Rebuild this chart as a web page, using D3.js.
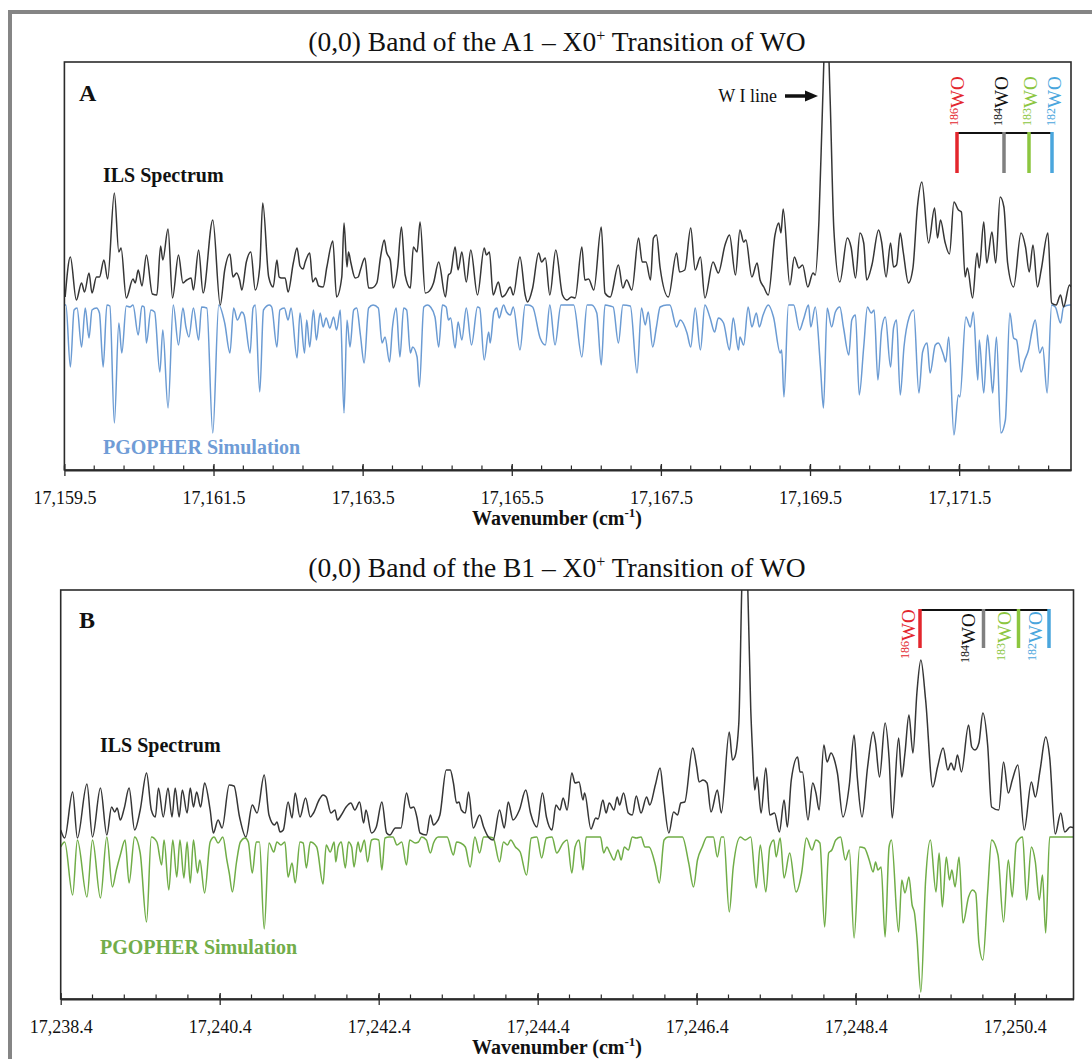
<!DOCTYPE html>
<html>
<head>
<meta charset="utf-8">
<script src="https://cdn.jsdelivr.net/npm/d3@7"></script>
<style>
  body { margin: 0; background: #fff; }
  svg text { font-family: "Liberation Serif", "Times New Roman", serif; }
</style>
</head>
<body>
<svg id="fig" width="1092" height="1059"></svg>
<script>
// ---------- data: wavenumber (cm-1), intensity (arb. units) ----------
// ILS spectrum, A1 - X0+ band: [wavenumber, intensity]
const ilsA = [[17159.51,173],[17159.58,213],[17159.66,170],[17159.73,187],[17159.77,178],[17159.83,197],[17159.87,177],[17159.93,193],[17159.97,193],[17160.03,210],[17160.08,191],[17160.17,277],[17160.23,218],[17160.26,222],[17160.33,172],[17160.42,191],[17160.45,187],[17160.49,200],[17160.54,184],[17160.60,215],[17160.68,176],[17160.74,175],[17160.79,224],[17160.82,210],[17160.89,241],[17160.95,172],[17161.03,215],[17161.09,187],[17161.14,190],[17161.20,192],[17161.23,180],[17161.30,220],[17161.36,177],[17161.49,250],[17161.59,165],[17161.65,200],[17161.72,216],[17161.76,193],[17161.81,197],[17161.85,190],[17161.88,180],[17161.94,208],[17162.00,218],[17162.06,180],[17162.12,203],[17162.16,267],[17162.24,193],[17162.30,183],[17162.35,210],[17162.38,193],[17162.41,192],[17162.46,192],[17162.50,178],[17162.57,207],[17162.62,222],[17162.66,204],[17162.70,201],[17162.73,208],[17162.79,217],[17162.83,188],[17162.87,192],[17162.91,184],[17162.97,183],[17163.02,203],[17163.10,229],[17163.15,173],[17163.22,193],[17163.25,247],[17163.29,203],[17163.31,218],[17163.34,208],[17163.40,192],[17163.44,193],[17163.47,200],[17163.53,212],[17163.58,182],[17163.62,182],[17163.69,187],[17163.74,213],[17163.79,230],[17163.82,218],[17163.87,210],[17163.91,182],[17163.97,203],[17164.02,243],[17164.07,195],[17164.14,182],[17164.18,223],[17164.23,218],[17164.27,248],[17164.34,177],[17164.38,178],[17164.45,187],[17164.52,208],[17164.61,173],[17164.65,195],[17164.68,197],[17164.74,223],[17164.78,200],[17164.83,218],[17164.89,188],[17164.95,220],[17165.04,175],[17165.13,222],[17165.16,215],[17165.20,218],[17165.25,175],[17165.32,188],[17165.37,173],[17165.41,175],[17165.48,183],[17165.52,175],[17165.61,213],[17165.68,175],[17165.71,168],[17165.78,182],[17165.86,217],[17165.90,208],[17165.95,212],[17166.01,175],[17166.09,220],[17166.18,175],[17166.24,170],[17166.30,173],[17166.35,172],[17166.44,223],[17166.48,190],[17166.53,191],[17166.60,180],[17166.70,243],[17166.75,177],[17166.82,173],[17166.93,205],[17166.99,182],[17167.04,190],[17167.11,180],[17167.20,232],[17167.25,208],[17167.30,208],[17167.36,190],[17167.40,232],[17167.44,235],[17167.49,202],[17167.60,173],[17167.71,217],[17167.75,198],[17167.82,200],[17167.90,242],[17167.96,200],[17168.03,213],[17168.09,172],[17168.20,208],[17168.27,197],[17168.36,225],[17168.42,235],[17168.50,195],[17168.56,240],[17168.61,228],[17168.64,230],[17168.72,193],[17168.79,207],[17168.83,190],[17168.88,183],[17168.94,175],[17169.03,235],[17169.08,247],[17169.11,237],[17169.14,261],[17169.23,185],[17169.29,213],[17169.35,202],[17169.40,205],[17169.47,183],[17169.54,197],[17169.57,195],[17169.62,250],[17169.67,370],[17169.72,470],[17169.77,370],[17169.82,240],[17169.90,188],[17170.00,232],[17170.05,223],[17170.11,192],[17170.17,237],[17170.22,227],[17170.26,190],[17170.33,205],[17170.42,240],[17170.46,228],[17170.52,193],[17170.58,227],[17170.62,203],[17170.66,205],[17170.71,237],[17170.75,218],[17170.82,187],[17170.88,202],[17170.94,263],[17171.00,288],[17171.09,227],[17171.17,262],[17171.21,232],[17171.25,250],[17171.31,228],[17171.37,216],[17171.43,268],[17171.49,260],[17171.53,258],[17171.58,193],[17171.61,202],[17171.68,172],[17171.74,217],[17171.77,202],[17171.83,248],[17171.87,207],[17171.94,238],[17171.99,207],[17172.05,273],[17172.10,263],[17172.15,207],[17172.23,183],[17172.33,237],[17172.39,223],[17172.44,198],[17172.49,225],[17172.55,183],[17172.60,200],[17172.69,237],[17172.74,167],[17172.80,165],[17172.86,175],[17172.90,163],[17172.98,185],[17173.00,183]];

// PGOPHER simulation, A1 - X0+ band: [wavenumber, simulated intensity]
const simA = [[17159.50,0],[17159.52,0],[17159.58,62],[17159.63,5],[17159.67,3],[17159.73,42],[17159.78,3],[17159.83,33],[17159.87,5],[17159.93,3],[17159.97,8],[17160.02,62],[17160.07,0],[17160.11,1],[17160.17,118],[17160.23,18],[17160.27,48],[17160.33,1],[17160.38,2],[17160.42,0],[17160.49,30],[17160.54,1],[17160.57,2],[17160.60,38],[17160.66,5],[17160.71,7],[17160.78,67],[17160.82,25],[17160.89,103],[17160.96,0],[17161.03,40],[17161.09,3],[17161.13,22],[17161.17,32],[17161.23,3],[17161.30,35],[17161.34,2],[17161.41,3],[17161.49,128],[17161.57,0],[17161.65,18],[17161.72,48],[17161.77,3],[17161.82,15],[17161.88,7],[17161.91,10],[17161.99,48],[17162.03,3],[17162.06,0],[17162.12,87],[17162.17,5],[17162.25,0],[17162.28,2],[17162.35,42],[17162.39,5],[17162.45,3],[17162.50,15],[17162.54,3],[17162.62,53],[17162.66,8],[17162.72,48],[17162.75,15],[17162.79,42],[17162.84,5],[17162.88,35],[17162.93,8],[17162.97,22],[17163.01,13],[17163.06,23],[17163.11,12],[17163.15,25],[17163.20,5],[17163.25,108],[17163.29,15],[17163.33,42],[17163.38,5],[17163.42,3],[17163.47,30],[17163.52,58],[17163.58,3],[17163.64,0],[17163.71,3],[17163.76,38],[17163.80,32],[17163.86,57],[17163.90,22],[17163.95,3],[17164.00,52],[17164.05,3],[17164.09,5],[17164.14,48],[17164.17,42],[17164.23,52],[17164.26,82],[17164.32,2],[17164.37,0],[17164.41,2],[17164.47,12],[17164.52,42],[17164.57,0],[17164.62,2],[17164.65,15],[17164.68,13],[17164.74,43],[17164.78,17],[17164.83,35],[17164.89,3],[17164.96,40],[17165.04,2],[17165.07,3],[17165.13,55],[17165.19,27],[17165.21,38],[17165.26,7],[17165.30,3],[17165.33,13],[17165.39,0],[17165.43,7],[17165.48,10],[17165.52,2],[17165.61,45],[17165.68,0],[17165.72,0],[17165.78,2],[17165.88,33],[17165.95,40],[17166.01,0],[17166.08,40],[17166.16,0],[17166.24,0],[17166.33,0],[17166.44,52],[17166.51,0],[17166.57,0],[17166.64,8],[17166.70,60],[17166.75,0],[17166.82,1],[17166.86,2],[17166.93,38],[17166.99,0],[17167.09,1],[17167.18,68],[17167.24,3],[17167.29,20],[17167.33,7],[17167.39,42],[17167.44,22],[17167.49,2],[17167.58,0],[17167.62,0],[17167.71,22],[17167.76,15],[17167.85,28],[17167.90,42],[17167.96,3],[17168.03,45],[17168.09,0],[17168.16,13],[17168.22,27],[17168.27,13],[17168.34,18],[17168.42,45],[17168.47,13],[17168.54,45],[17168.56,32],[17168.61,40],[17168.67,2],[17168.72,22],[17168.78,8],[17168.82,22],[17168.87,10],[17168.94,0],[17169.01,12],[17169.10,48],[17169.12,45],[17169.15,92],[17169.21,0],[17169.28,0],[17169.36,25],[17169.41,15],[17169.48,0],[17169.51,22],[17169.57,2],[17169.64,62],[17169.68,103],[17169.73,3],[17169.79,22],[17169.84,7],[17169.90,2],[17169.95,23],[17170.02,50],[17170.06,15],[17170.11,10],[17170.16,90],[17170.22,42],[17170.27,2],[17170.32,8],[17170.36,5],[17170.41,75],[17170.46,25],[17170.51,12],[17170.58,62],[17170.62,23],[17170.66,15],[17170.71,90],[17170.76,42],[17170.83,12],[17170.89,5],[17170.96,88],[17171.01,47],[17171.07,38],[17171.11,68],[17171.18,40],[17171.22,38],[17171.29,50],[17171.32,57],[17171.36,32],[17171.43,130],[17171.49,90],[17171.51,92],[17171.59,12],[17171.65,22],[17171.69,7],[17171.75,75],[17171.77,35],[17171.83,88],[17171.88,30],[17171.92,62],[17171.95,88],[17172.00,32],[17172.06,128],[17172.12,115],[17172.18,8],[17172.23,33],[17172.27,35],[17172.33,67],[17172.38,55],[17172.43,45],[17172.48,25],[17172.52,15],[17172.58,48],[17172.62,42],[17172.68,88],[17172.74,0],[17172.79,2],[17172.86,18],[17172.90,2],[17172.98,0],[17173.00,0]];

// ILS spectrum, B1 - X0+ band
const ilsB = [[17238.40,169],[17238.45,161],[17238.55,207],[17238.61,161],[17238.73,215],[17238.80,162],[17238.90,211],[17238.98,164],[17239.04,192],[17239.08,187],[17239.11,191],[17239.15,179],[17239.20,191],[17239.26,211],[17239.33,169],[17239.40,189],[17239.48,226],[17239.54,189],[17239.59,182],[17239.63,211],[17239.69,182],[17239.75,211],[17239.80,182],[17239.84,211],[17239.89,182],[17239.93,209],[17239.99,186],[17240.03,211],[17240.07,192],[17240.11,207],[17240.16,192],[17240.21,216],[17240.28,189],[17240.32,166],[17240.38,179],[17240.43,171],[17240.52,214],[17240.58,213],[17240.65,182],[17240.73,162],[17240.81,194],[17240.87,186],[17240.96,224],[17241.02,184],[17241.09,174],[17241.12,177],[17241.16,167],[17241.20,169],[17241.26,197],[17241.31,181],[17241.35,206],[17241.41,182],[17241.48,201],[17241.54,182],[17241.58,186],[17241.65,199],[17241.70,204],[17241.74,202],[17241.80,186],[17241.85,189],[17241.88,179],[17241.93,184],[17241.99,192],[17242.05,196],[17242.10,189],[17242.16,197],[17242.21,176],[17242.24,189],[17242.31,166],[17242.37,172],[17242.44,197],[17242.50,166],[17242.54,164],[17242.61,171],[17242.68,171],[17242.75,206],[17242.80,191],[17242.84,192],[17242.88,182],[17242.92,166],[17243.00,164],[17243.05,184],[17243.09,174],[17243.12,176],[17243.17,184],[17243.25,229],[17243.30,229],[17243.34,216],[17243.38,196],[17243.41,197],[17243.44,189],[17243.49,186],[17243.53,207],[17243.59,171],[17243.67,184],[17243.72,172],[17243.79,161],[17243.84,159],[17243.92,189],[17243.98,171],[17244.03,197],[17244.09,179],[17244.17,189],[17244.25,209],[17244.31,186],[17244.39,172],[17244.46,206],[17244.51,182],[17244.58,169],[17244.63,194],[17244.68,189],[17244.72,201],[17244.77,189],[17244.83,226],[17244.87,216],[17244.92,217],[17244.97,199],[17244.99,206],[17245.07,170],[17245.13,181],[17245.16,180],[17245.22,199],[17245.26,186],[17245.30,196],[17245.36,189],[17245.40,202],[17245.43,194],[17245.48,206],[17245.54,186],[17245.59,184],[17245.64,203],[17245.70,186],[17245.77,202],[17245.81,194],[17245.88,214],[17245.94,231],[17245.98,206],[17246.05,166],[17246.11,187],[17246.16,184],[17246.20,196],[17246.25,197],[17246.35,251],[17246.40,232],[17246.43,217],[17246.48,219],[17246.53,216],[17246.58,187],[17246.66,209],[17246.71,186],[17246.81,267],[17246.85,239],[17246.88,242],[17246.93,276],[17246.97,420],[17247.00,480],[17247.04,420],[17247.08,290],[17247.10,252],[17247.13,209],[17247.16,222],[17247.21,186],[17247.27,231],[17247.32,184],[17247.38,186],[17247.44,167],[17247.50,199],[17247.54,172],[17247.59,219],[17247.67,242],[17247.70,227],[17247.73,227],[17247.80,179],[17247.86,216],[17247.90,206],[17247.94,189],[17248.00,254],[17248.04,237],[17248.09,246],[17248.14,237],[17248.17,226],[17248.24,182],[17248.32,214],[17248.38,264],[17248.42,222],[17248.48,182],[17248.55,232],[17248.62,267],[17248.65,256],[17248.70,222],[17248.77,276],[17248.82,241],[17248.86,181],[17248.94,261],[17248.98,222],[17249.02,246],[17249.07,284],[17249.12,246],[17249.17,306],[17249.22,339],[17249.28,299],[17249.37,212],[17249.43,232],[17249.50,251],[17249.56,229],[17249.60,236],[17249.64,229],[17249.68,244],[17249.73,227],[17249.82,274],[17249.86,252],[17249.90,249],[17249.95,256],[17250.00,286],[17250.06,254],[17250.11,192],[17250.20,189],[17250.26,237],[17250.32,206],[17250.37,219],[17250.44,234],[17250.52,169],[17250.61,217],[17250.66,202],[17250.72,229],[17250.79,262],[17250.84,242],[17250.91,165],[17250.98,186],[17251.03,167],[17251.10,172],[17251.15,171]];

// PGOPHER simulation, B1 - X0+ band
const simB = [[17238.40,10],[17238.45,5],[17238.55,58],[17238.61,3],[17238.73,60],[17238.80,3],[17238.90,61],[17238.98,0],[17239.05,50],[17239.10,33],[17239.15,18],[17239.21,3],[17239.26,46],[17239.33,0],[17239.40,16],[17239.48,85],[17239.54,0],[17239.61,5],[17239.67,28],[17239.70,3],[17239.76,53],[17239.81,3],[17239.86,40],[17239.90,3],[17239.95,41],[17239.99,5],[17240.03,46],[17240.07,3],[17240.12,36],[17240.15,23],[17240.21,56],[17240.28,5],[17240.33,0],[17240.38,6],[17240.44,0],[17240.49,23],[17240.52,36],[17240.56,55],[17240.61,26],[17240.66,5],[17240.72,1],[17240.76,5],[17240.81,36],[17240.86,5],[17240.90,5],[17240.96,92],[17241.02,6],[17241.08,15],[17241.12,5],[17241.17,8],[17241.22,5],[17241.26,40],[17241.31,26],[17241.35,46],[17241.41,5],[17241.45,6],[17241.49,31],[17241.54,5],[17241.62,10],[17241.70,47],[17241.74,8],[17241.79,15],[17241.84,5],[17241.86,25],[17241.89,10],[17241.93,5],[17241.98,31],[17242.02,5],[17242.06,10],[17242.09,30],[17242.14,5],[17242.17,15],[17242.22,3],[17242.26,25],[17242.31,3],[17242.35,2],[17242.40,3],[17242.44,33],[17242.48,1],[17242.53,0],[17242.58,0],[17242.63,8],[17242.69,5],[17242.75,28],[17242.79,3],[17242.86,6],[17242.90,5],[17242.94,0],[17243.00,3],[17243.05,16],[17243.09,6],[17243.15,0],[17243.26,0],[17243.34,18],[17243.38,5],[17243.43,6],[17243.49,10],[17243.55,30],[17243.61,0],[17243.67,16],[17243.72,0],[17243.78,0],[17243.84,1],[17243.92,25],[17243.97,5],[17244.02,8],[17244.06,3],[17244.12,10],[17244.18,15],[17244.26,38],[17244.32,1],[17244.39,0],[17244.45,21],[17244.51,1],[17244.58,0],[17244.64,16],[17244.72,6],[17244.77,3],[17244.83,36],[17244.87,10],[17244.92,3],[17244.97,33],[17245.01,0],[17245.07,0],[17245.13,0],[17245.19,0],[17245.23,16],[17245.27,10],[17245.31,16],[17245.36,23],[17245.41,13],[17245.45,23],[17245.49,10],[17245.54,13],[17245.59,0],[17245.64,1],[17245.70,0],[17245.75,10],[17245.80,10],[17245.88,28],[17245.93,46],[17245.99,3],[17246.04,0],[17246.09,0],[17246.16,0],[17246.22,0],[17246.30,26],[17246.36,50],[17246.41,23],[17246.47,10],[17246.53,0],[17246.61,0],[17246.66,20],[17246.71,0],[17246.74,0],[17246.81,75],[17246.86,30],[17246.95,0],[17247.01,3],[17247.08,0],[17247.15,51],[17247.20,8],[17247.27,55],[17247.32,10],[17247.37,3],[17247.40,20],[17247.45,1],[17247.50,41],[17247.57,16],[17247.65,55],[17247.72,36],[17247.78,1],[17247.85,13],[17247.90,3],[17247.95,6],[17248.01,90],[17248.06,16],[17248.10,13],[17248.15,3],[17248.21,0],[17248.27,23],[17248.32,13],[17248.38,101],[17248.45,10],[17248.51,11],[17248.57,23],[17248.62,35],[17248.65,25],[17248.68,33],[17248.72,30],[17248.77,100],[17248.82,10],[17248.85,3],[17248.94,95],[17248.98,43],[17249.02,56],[17249.07,40],[17249.11,68],[17249.14,76],[17249.17,100],[17249.22,155],[17249.28,43],[17249.34,3],[17249.41,55],[17249.45,16],[17249.49,70],[17249.54,20],[17249.58,43],[17249.61,33],[17249.65,50],[17249.70,20],[17249.75,86],[17249.82,60],[17249.87,53],[17249.91,56],[17249.95,106],[17250.00,123],[17250.06,55],[17250.11,3],[17250.19,18],[17250.26,85],[17250.32,23],[17250.37,60],[17250.42,6],[17250.50,0],[17250.55,63],[17250.61,10],[17250.66,25],[17250.71,63],[17250.75,38],[17250.79,96],[17250.84,0],[17250.91,0],[17251.15,0]];

// axis ranges and labelled ticks (cm-1)
const rangeA = [17159.5, 17173.0];
const rangeB = [17238.4, 17251.14];
const ticksA = [17159.5, 17161.5, 17163.5, 17165.5, 17167.5, 17169.5, 17171.5];
const ticksB = [17238.4, 17240.4, 17242.4, 17244.4, 17246.4, 17248.4, 17250.4];

// isotopologue markers
const isoMass = ["186", "184", "183", "182"];
const isoTextColor = ["#e3262d", "#111111", "#8cc63f", "#4aa6dd"];
const isoBarColor = ["#e3262d", "#808080", "#8cc63f", "#4aa6dd"];

// ---------- drawing ----------
const svg = d3.select("#fig");
const fmt = d3.format(",.1f");

// outer figure frame
svg.append("rect").attr("x", 10).attr("y", 12).attr("width", 1100).attr("height", 1100)
  .attr("fill", "none").attr("stroke", "#858585").attr("stroke-width", 4);

const panels = [
  {
    id: "A", letter: "A", ils: ilsA, sim: simA, range: rangeA, ticks: ticksA,
    left: 64.4, right: 1071, top: 62, bottom: 470, simBase: 165,
    title: "A1 \u2013 X0", titleY: 51, simColor: "#6b9bd3", simLabelColor: "#6f9cd6",
    ilsLabelY: 182, simLabelY: 454, labelX: 103, letterY: 101,
    legend: { lineY: 133, lineX: [957, 1053], barX: [957, 1004, 1029, 1052], barBottom: 173,
              textX: [957, 1001, 1030, 1054], textBottom: [126, 126, 126, 126] }
  },
  {
    id: "B", letter: "B", ils: ilsB, sim: simB, range: rangeB, ticks: ticksB,
    left: 60.7, right: 1073.5, top: 590, bottom: 999, simBase: 162,
    title: "B1 \u2013 X0", titleY: 577, simColor: "#70ad47", simLabelColor: "#72ad4a",
    ilsLabelY: 752, simLabelY: 954, labelX: 100, letterY: 628,
    legend: { lineY: 610, lineX: [919, 1050], barX: [920, 983.5, 1018.5, 1049], barBottom: 648,
              textX: [908, 968, 1004, 1035], textBottom: [659, 663, 661, 661] }
  }
];

panels.forEach(p => {
  const g = svg.append("g");
  const x = d3.scaleLinear().domain(p.range).range([p.left, p.right]);
  const y = d3.scaleLinear().domain([0, p.bottom - p.top]).range([p.bottom, p.top]);

  // panel title
  const t = g.append("text").attr("x", 557).attr("y", p.titleY)
    .attr("text-anchor", "middle").attr("font-size", 27.5).attr("fill", "#111");
  t.append("tspan").text("(0,0) Band of the " + p.title);
  t.append("tspan").attr("font-size", 16).attr("dy", -10).text("+");
  t.append("tspan").attr("dy", 10).text(" Transition of WO");

  // clip region
  svg.append("clipPath").attr("id", "clip" + p.id)
    .append("rect").attr("x", p.left).attr("y", p.top)
    .attr("width", p.right - p.left).attr("height", p.bottom - p.top);

  const plot = g.append("g").attr("clip-path", "url(#clip" + p.id + ")");

  const ilsLine = d3.line().x(d => x(d[0])).y(d => y(d[1])).curve(d3.curveMonotoneX);
  const simLine = d3.line().x(d => x(d[0])).y(d => y(p.simBase - d[1])).curve(d3.curveMonotoneX);

  plot.append("path").datum(p.sim).attr("d", simLine)
    .attr("fill", "none").attr("stroke", p.simColor).attr("stroke-width", 1.5);
  plot.append("path").datum(p.ils).attr("d", ilsLine)
    .attr("fill", "none").attr("stroke", "#363636").attr("stroke-width", 1.5);

  // plot frame
  g.append("rect").attr("x", p.left).attr("y", p.top)
    .attr("width", p.right - p.left).attr("height", p.bottom - p.top)
    .attr("fill", "none").attr("stroke", "#2b2b2b").attr("stroke-width", 1.6);

  // bottom axis with labelled ticks
  const axis = d3.axisBottom(x).tickValues(p.ticks).tickFormat(fmt)
    .tickSizeOuter(0).tickSizeInner(6).tickPadding(15);
  const ax = g.append("g").attr("transform", `translate(0,${p.bottom})`).call(axis);
  ax.select(".domain").attr("stroke", "#2b2b2b").attr("stroke-width", 2);
  ax.selectAll(".tick line").attr("stroke", "#2b2b2b").attr("stroke-width", 1.3)
    .attr("y1", -6).attr("y2", 6);
  ax.selectAll(".tick text").attr("font-size", 18)
    .attr("font-family", "Liberation Serif, Times New Roman, serif").attr("fill", "#111");

  // minor ticks every 0.4 cm-1
  const minor = d3.range(0, Math.floor((p.range[1] - p.range[0]) / 0.4 + 1e-6) + 1)
    .map(i => p.range[0] + i * 0.4);
  g.append("g").selectAll("line").data(minor).join("line")
    .attr("x1", d => x(d)).attr("x2", d => x(d))
    .attr("y1", p.bottom - 4.5).attr("y2", p.bottom)
    .attr("stroke", "#2b2b2b").attr("stroke-width", 1.2);

  // axis title
  const at = g.append("text").attr("x", 557).attr("y", p.bottom + 55)
    .attr("text-anchor", "middle").attr("font-size", 20).attr("font-weight", "bold").attr("fill", "#111");
  at.append("tspan").text("Wavenumber (cm");
  at.append("tspan").attr("font-size", 13).attr("dy", -8).text("-1");
  at.append("tspan").attr("dy", 8).text(")");

  // panel letter and trace labels
  g.append("text").attr("x", 79).attr("y", p.letterY).attr("font-size", 24)
    .attr("font-weight", "bold").attr("fill", "#111").text(p.letter);
  g.append("text").attr("x", p.labelX).attr("y", p.ilsLabelY).attr("font-size", 20)
    .attr("font-weight", "bold").attr("fill", "#111").text("ILS Spectrum");
  g.append("text").attr("x", p.labelX).attr("y", p.simLabelY).attr("font-size", 20)
    .attr("font-weight", "bold").attr("fill", p.simLabelColor).text("PGOPHER Simulation");

  // isotopologue markers
  const L = p.legend;
  g.append("line").attr("x1", L.lineX[0]).attr("x2", L.lineX[1])
    .attr("y1", L.lineY).attr("y2", L.lineY).attr("stroke", "#111").attr("stroke-width", 2);
  isoMass.forEach((m, i) => {
    g.append("line").attr("x1", L.barX[i]).attr("x2", L.barX[i])
      .attr("y1", L.lineY - 1).attr("y2", L.barBottom)
      .attr("stroke", isoBarColor[i]).attr("stroke-width", 3.5);
    const lt = g.append("text")
      .attr("transform", `translate(${L.textX[i]},${L.textBottom[i]}) rotate(-90)`)
      .attr("dominant-baseline", "central").attr("fill", isoTextColor[i]);
    lt.append("tspan").attr("font-size", 12).attr("dy", -3).text(m);
    lt.append("tspan").attr("font-size", 19).attr("dy", 3).text("WO");
  });
});

// W I line annotation (panel A)
svg.append("text").attr("x", 777).attr("y", 102).attr("text-anchor", "end")
  .attr("font-size", 18).attr("fill", "#111").text("W I line");
svg.append("line").attr("x1", 785).attr("x2", 807).attr("y1", 96).attr("y2", 96)
  .attr("stroke", "#111").attr("stroke-width", 3.5);
svg.append("path").attr("d", "M805,90.5 L818,96 L805,101.5 Z").attr("fill", "#111");
</script>
</body>
</html>
